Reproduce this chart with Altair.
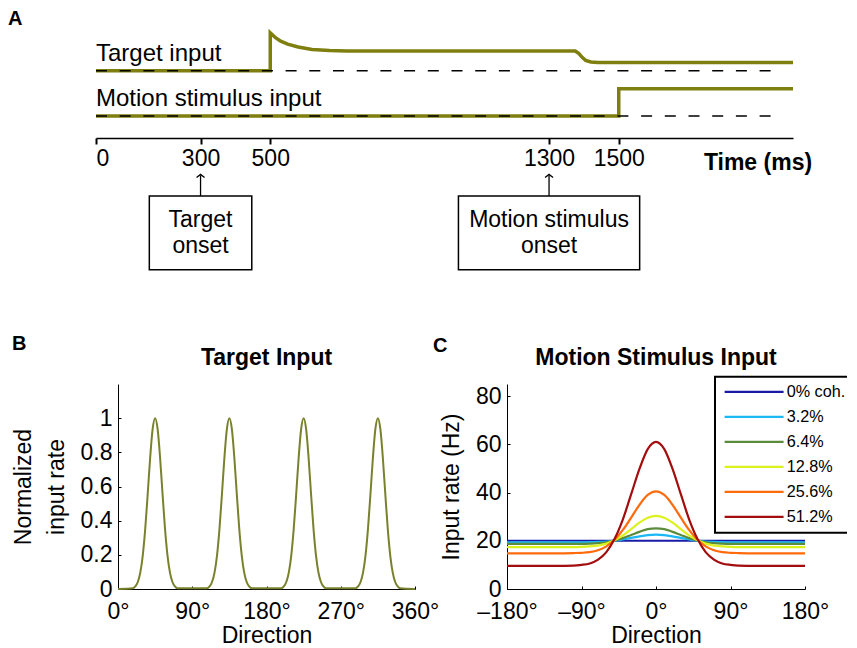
import altair as alt
import pandas as pd

# ---------------- data ----------------
# Panel A: schematic input time courses (time in ms, trace level in arbitrary units)
target_time = [0, 500, 500, 515, 530, 550, 580, 620, 670, 720, 1375, 1385, 1395, 1405, 1420, 1440, 2000]
target_level = [68.5, 68.5, 107, 102, 98.5, 95.5, 92.5, 90, 88.9, 88.5, 88.5, 86, 82, 79, 77.3, 76.8, 76.8]
motion_time = [0, 1500, 1500, 2000]
motion_level = [22.5, 22.5, 50, 50]
trace_names = ["Target input", "Motion stimulus input"]
baseline_levels = [68.5, 22.5]
tick_times = [0, 300, 500, 1300, 1500]
onset_times = [300, 1300]
onset_line1 = ["Target", "Motion stimulus"]
onset_line2 = ["onset", "onset"]

# Panel B: target input (normalized) vs direction
target_dir = [0,
              18, 21, 24, 27, 30, 33, 36, 39, 42, 45, 48, 51, 54, 57, 60, 63, 66, 69, 72,
              108, 111, 114, 117, 120, 123, 126, 129, 132, 135, 138, 141, 144, 147, 150, 153, 156, 159, 162,
              198, 201, 204, 207, 210, 213, 216, 219, 222, 225, 228, 231, 234, 237, 240, 243, 246, 249, 252,
              288, 291, 294, 297, 300, 303, 306, 309, 312, 315, 318, 321, 324, 327, 330, 333, 336, 339, 342,
              360]
target_rate = [0,
               0.004, 0.015, 0.041, 0.096, 0.196, 0.352, 0.556, 0.770, 0.937, 1.0, 0.937, 0.770, 0.556, 0.352, 0.196, 0.096, 0.041, 0.015, 0.004,
               0.004, 0.015, 0.041, 0.096, 0.196, 0.352, 0.556, 0.770, 0.937, 1.0, 0.937, 0.770, 0.556, 0.352, 0.196, 0.096, 0.041, 0.015, 0.004,
               0.004, 0.015, 0.041, 0.096, 0.196, 0.352, 0.556, 0.770, 0.937, 1.0, 0.937, 0.770, 0.556, 0.352, 0.196, 0.096, 0.041, 0.015, 0.004,
               0.004, 0.015, 0.041, 0.096, 0.196, 0.352, 0.556, 0.770, 0.937, 1.0, 0.937, 0.770, 0.556, 0.352, 0.196, 0.096, 0.041, 0.015, 0.004,
               0]

# Panel C: motion stimulus input rate (Hz) vs direction, per coherence
motion_dir = [-180, -150, -120, -100, -90, -80, -70, -60, -50, -40, -30, -20, -10, 0,
              10, 20, 30, 40, 50, 60, 70, 80, 90, 100, 120, 150, 180]
coherence_labels = ["0% coh.", "3.2%", "6.4%", "12.8%", "25.6%", "51.2%"]
rate_c0 = [20.0] * 27
rate_c32 = [19.35, 19.35, 19.35, 19.35, 19.37, 19.4, 19.5, 19.7, 20.05, 20.55, 21.2, 21.85, 22.35, 22.55,
            22.35, 21.85, 21.2, 20.55, 20.05, 19.7, 19.5, 19.4, 19.37, 19.35, 19.35, 19.35, 19.35]
rate_c64 = [18.7, 18.7, 18.7, 18.7, 18.7, 18.8, 19.0, 19.4, 20.1, 21.1, 22.4, 23.7, 24.8, 25.1,
            24.8, 23.7, 22.4, 21.1, 20.1, 19.4, 19.0, 18.8, 18.7, 18.7, 18.7, 18.7, 18.7]
rate_c128 = [17.4, 17.4, 17.4, 17.4, 17.5, 17.7, 18.0, 18.8, 20.2, 22.2, 24.8, 27.5, 29.5, 30.3,
             29.5, 27.5, 24.8, 22.2, 20.2, 18.8, 18.0, 17.7, 17.5, 17.4, 17.4, 17.4, 17.4]
rate_c256 = [14.8, 14.8, 14.8, 14.9, 15.0, 15.3, 16.1, 17.7, 20.4, 24.5, 29.6, 34.9, 39.0, 40.5,
             39.0, 34.9, 29.6, 24.5, 20.4, 17.7, 16.1, 15.3, 15.0, 14.9, 14.8, 14.8, 14.8]
rate_c512 = [9.6, 9.6, 9.6, 9.7, 10.0, 10.6, 12.2, 15.3, 20.8, 28.9, 39.3, 49.8, 58.0, 61.0,
             58.0, 49.8, 39.3, 28.9, 20.8, 15.3, 12.2, 10.6, 10.0, 9.7, 9.6, 9.6, 9.6]
coherence_colors = ["#1a1aa6", "#1ab8f5", "#5b8c3c", "#dcf21c", "#ff6a0a", "#a30d0d"]

# ---------------- style ----------------
FONT = "Liberation Sans"
OLIVE = "#7f7f10"
B_COLOR = "#78822c"
FS = 23
INWARD = alt.ExprRef("-3")

# ---------------- Panel A ----------------
xA = alt.Scale(domain=[0, 2000], range=[-22, 675])
yA = alt.Scale(domain=[0, 118])
axisA = alt.Axis(values=tick_times, format="d", labelFontSize=FS, labelPadding=3,
                 tickSize=6, tickWidth=2, domainWidth=1.5, labelOverlap=False,
                 title="Time (ms)", titleFontWeight="bold", titleFontSize=FS,
                 titleX=639.5, titleY=31.8, titleAlign="center", titleBaseline="alphabetic",
                 titleAnchor="start")

def XA(field="t"):
    return alt.X(f"{field}:Q", scale=xA, axis=axisA)

def YA(field="lvl"):
    return alt.Y(f"{field}:Q", scale=yA, axis=None)

traces = pd.concat([
    pd.DataFrame({"t": target_time, "lvl": target_level, "trace": trace_names[0]}),
    pd.DataFrame({"t": motion_time, "lvl": motion_level, "trace": trace_names[1]}),
])
trace_layer = alt.Chart(traces).mark_line(color=OLIVE, strokeWidth=3.5, strokeJoin="miter").encode(
    x=XA(), y=YA(), detail="trace:N", order="idx:Q"
).transform_window(idx="row_number()", groupby=["trace"])

base_df = pd.DataFrame({"lvl": baseline_levels, "name": trace_names})
dash_layer = alt.Chart(base_df).mark_rule(color="black", strokeWidth=1.5, strokeDash=[11, 12.7]).encode(
    x=alt.X("x0:Q", scale=xA, axis=axisA), x2="x1:Q", y=YA()
).transform_calculate(x0="0", x1="1970")
name_layer = alt.Chart(base_df).mark_text(align="left", baseline="alphabetic", dy=-10,
                                           fontSize=24, font=FONT, color="black").encode(
    x=alt.X("x0:Q", scale=xA, axis=axisA), y=YA(), text="name:N"
).transform_calculate(x0="0")

onset_df = pd.DataFrame({"t": onset_times, "l1": onset_line1, "l2": onset_line2,
                         "half": [147, 260]})
box_layer = alt.Chart(onset_df).mark_rect(fill="white", stroke="black", strokeWidth=1.5).encode(
    x=alt.X("x0:Q", scale=xA, axis=axisA), x2="x1:Q", y=alt.datum(-59), y2=alt.datum(-134)
).transform_calculate(x0="datum.t - datum.half", x1="datum.t + datum.half")
shaft_layer = alt.Chart(onset_df).mark_rule(color="black", strokeWidth=1.3).encode(
    x=XA(), y=alt.datum(-59), y2=alt.datum(-38)
)
head_layer = alt.Chart(onset_df).mark_point(shape="M-1,0.8L0,0L1,0.8", size=64, filled=False,
                                            stroke="black", strokeWidth=1.3, opacity=1).encode(
    x=XA(), y=alt.datum(-37)
)
line1_layer = alt.Chart(onset_df).mark_text(fontSize=FS, font=FONT, baseline="middle", color="black").encode(
    x=XA(), y=alt.datum(-83), text="l1:N"
)
line2_layer = alt.Chart(onset_df).mark_text(fontSize=FS, font=FONT, baseline="middle", color="black").encode(
    x=XA(), y=alt.datum(-110), text="l2:N"
)
letterA = alt.Chart(pd.DataFrame({"s": ["A"]})).mark_text(
    fontSize=20, fontWeight="bold", font=FONT, align="left", baseline="alphabetic", color="black"
).encode(x=alt.value(-110), y=alt.value(5), text="s:N")

panelA = alt.layer(trace_layer, dash_layer, name_layer, box_layer, shaft_layer, head_layer,
                   line1_layer, line2_layer, letterA).properties(width=687, height=118)


def heading(text, letter, x_center, letter_dx, letter_y):
    df = pd.DataFrame({"s": [text], "l": [letter]})
    title = alt.Chart(df).mark_text(fontSize=FS, fontWeight="bold", font=FONT, align="center",
                                    baseline="alphabetic", color="black").encode(
        x=alt.value(x_center), y=alt.value(-19), text="s:N")
    let = alt.Chart(df).mark_text(fontSize=20, fontWeight="bold", font=FONT, align="left",
                                  baseline="alphabetic", color="black").encode(
        x=alt.value(letter_dx), y=alt.value(letter_y), text="l:N")
    return title, let


# ---------------- Panel B ----------------
dfB = pd.DataFrame({"dir": target_dir, "rate": target_rate})
lineB = alt.Chart(dfB).mark_line(color=B_COLOR, strokeWidth=2, interpolate="monotone").encode(
    x=alt.X("dir:Q", scale=alt.Scale(domain=[0, 360], nice=False),
            axis=alt.Axis(values=[0, 90, 180, 270, 360], labelExpr="datum.value + '°'",
                          title="Direction", tickSize=INWARD, labelPadding=14, titlePadding=1.5,
                          labelFlush=False)),
    y=alt.Y("rate:Q", scale=alt.Scale(domain=[0, 1.2], nice=False),
            axis=alt.Axis(values=[0, 0.2, 0.4, 0.6, 0.8, 1], format="~g",
                          title=["Normalized", "input rate"], titleLineHeight=33,
                          tickSize=INWARD, labelPadding=9, titlePadding=12, labelFlush=False)),
)
titleB, letterB = heading("Target Input", "B", 148.5, -106, -34)
panelB = alt.layer(lineB, titleB, letterB).properties(width=297, height=205)

# ---------------- Panel C ----------------
rows = []
for lab, vals in zip(coherence_labels, [rate_c0, rate_c32, rate_c64, rate_c128, rate_c256, rate_c512]):
    for d, v in zip(motion_dir, vals):
        rows.append({"dir": d, "rate": v, "coh": lab})
dfC = pd.DataFrame(rows)
lineC = alt.Chart(dfC).mark_line(strokeWidth=2.2, interpolate="monotone").encode(
    x=alt.X("dir:Q", scale=alt.Scale(domain=[-180, 180], nice=False),
            axis=alt.Axis(values=[-180, -90, 0, 90, 180],
                          labelExpr="datum.value < 0 ? '\u2013' + (-datum.value) + '°' : datum.value + '°'",
                          title="Direction", tickSize=INWARD, labelPadding=14, titlePadding=1.5,
                          labelFlush=False)),
    y=alt.Y("rate:Q", scale=alt.Scale(domain=[0, 85], nice=False),
            axis=alt.Axis(values=[0, 20, 40, 60, 80], title="Input rate (Hz)",
                          tickSize=INWARD, labelPadding=9, titlePadding=12, labelFlush=False)),
    color=alt.Color("coh:N", scale=alt.Scale(domain=coherence_labels, range=coherence_colors),
                    sort=coherence_labels,
                    legend=alt.Legend(title=None, orient="none", legendX=597, legendY=356.7)),
)
titleC, letterC = heading("Motion Stimulus Input", "C", 149, -74, -32)
panelC = alt.layer(lineC, titleC, letterC).properties(width=298, height=205)

row = alt.hconcat(panelB, panelC, spacing=92, bounds="flush")
chart = alt.vconcat(panelA, row, spacing=246, bounds="flush").properties(
    padding={"left": 0, "top": 1, "right": -7.5, "bottom": 0}
).configure_view(stroke=None).configure_axis(
    labelFont=FONT, titleFont=FONT, labelFontSize=FS, titleFontSize=FS, labelColor="black",
    titleColor="black", domainColor="black", tickColor="black", grid=False,
    titleFontWeight="normal"
).configure_legend(
    strokeColor="black", strokeWidth=2, fillColor="white", padding=7,
    labelFont=FONT, labelFontSize=16.2, labelColor="black", labelOffset=24.5,
    symbolType="M-5,0L5,0", symbolSize=139, symbolStrokeWidth=2.2, symbolOffset=24,
    rowPadding=8
)

chart.save("out.html", embed_options={"renderer": "svg", "actions": False})
